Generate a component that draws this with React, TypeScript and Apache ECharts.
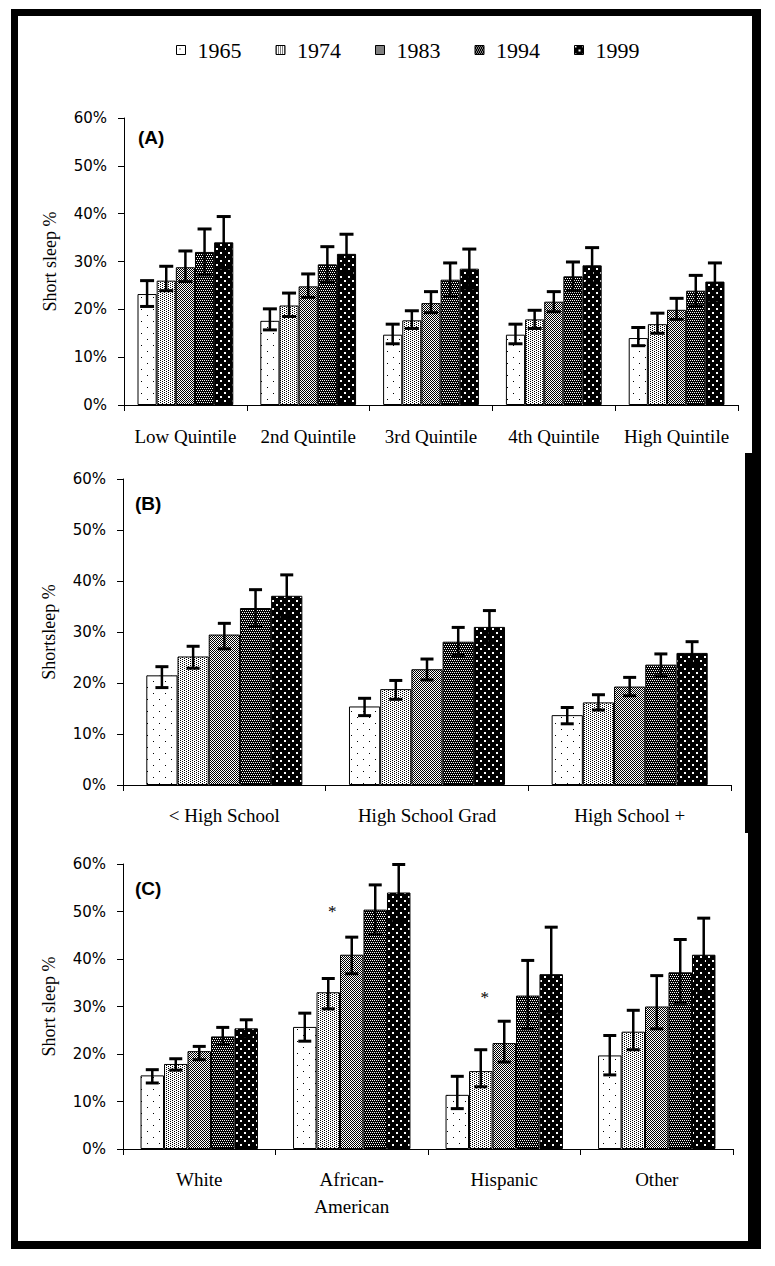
import React, { useEffect, useRef } from 'react';
import * as echarts from 'echarts';

const YEARS = ['1965', '1974', '1983', '1994', '1999'];

// Panel A: income quintiles
const catsA = ['Low Quintile', '2nd Quintile', '3rd Quintile', '4th Quintile', 'High Quintile'];
const valsA = [
  [23.2, 17.6, 14.7, 14.7, 14.0],
  [26.0, 20.8, 17.7, 17.9, 16.9],
  [28.8, 24.8, 21.3, 21.6, 19.9],
  [32.0, 29.4, 26.2, 26.9, 23.9],
  [34.0, 31.6, 28.5, 29.2, 25.8],
];
const hiA = [
  [26.0, 20.1, 16.9, 16.9, 16.2],
  [29.0, 23.4, 19.7, 19.8, 19.2],
  [32.2, 27.4, 23.7, 23.7, 22.3],
  [36.8, 33.1, 29.7, 29.9, 27.1],
  [39.4, 35.7, 32.6, 32.9, 29.7],
];
const loA = [
  [20.6, 15.7, 12.8, 12.8, 12.4],
  [23.9, 18.5, 16.0, 16.0, 15.0],
  [25.8, 22.5, 19.3, 19.5, 17.9],
  [27.2, 25.7, 22.7, 23.9, 20.7],
  [28.6, 27.5, 24.4, 25.5, 21.9],
];

// Panel B: education
const catsB = ['< High School', 'High School Grad', 'High School +'];
const valsB = [
  [21.5, 15.4, 13.7],
  [25.2, 18.8, 16.2],
  [29.5, 22.7, 19.3],
  [34.7, 28.1, 23.6],
  [37.1, 31.0, 25.9],
];
const hiB = [
  [23.2, 17.0, 15.2],
  [27.2, 20.5, 17.7],
  [31.7, 24.7, 21.1],
  [38.3, 30.9, 25.7],
  [41.2, 34.2, 28.1],
];
const loB = [
  [19.1, 13.6, 12.0],
  [22.9, 16.8, 14.7],
  [26.7, 20.6, 17.5],
  [31.1, 25.4, 21.4],
  [33.0, 27.8, 23.6],
];

// Panel C: race / ethnicity
const catsC = ['White', 'African-\nAmerican', 'Hispanic', 'Other'];
const valsC = [
  [15.5, 25.7, 11.4, 19.7],
  [17.9, 33.0, 16.4, 24.7],
  [20.6, 40.9, 22.3, 30.0],
  [23.7, 50.4, 32.3, 37.2],
  [25.4, 54.0, 36.8, 40.9],
];
const hiC = [
  [16.7, 28.6, 15.3, 23.9],
  [19.0, 35.9, 20.9, 29.2],
  [21.6, 44.6, 26.9, 36.5],
  [25.6, 55.6, 39.7, 44.1],
  [27.2, 59.9, 46.7, 48.6],
];
const loC = [
  [13.9, 22.7, 8.5, 15.6],
  [16.6, 29.5, 13.1, 20.9],
  [18.8, 36.9, 18.3, 25.3],
  [22.0, 45.2, 25.3, 30.7],
  [23.7, 48.1, 28.8, 32.8],
];
// asterisks: [category index, year index, y position (%)]
const asteriskC = [
  [1, 1, 50.0],
  [2, 1, 31.8],
];

const Y_MIN = 0;
const Y_MAX = 60;
const Y_STEP = 10;

function makePattern(kind: number): any {
  const c = document.createElement('canvas');
  let w = 4, h = 4;
  const px: Array<[number, number, number, number]> = [];
  let bg = '#fff';
  let fg = '#000';
  if (kind === 0) {
    w = 12; h = 12;
    px.push([3, 3, 1, 1], [9, 9, 1, 1]);
  } else if (kind === 1) {
    w = 4; h = 2;
    px.push([0, 0, 1, 1], [2, 1, 1, 1]);
  } else if (kind === 2) {
    w = 2; h = 2;
    px.push([0, 0, 1, 1], [1, 1, 1, 1]);
  } else if (kind === 3) {
    w = 4; h = 4; bg = '#000'; fg = '#fff';
    px.push([0, 0, 1, 1], [2, 0, 1, 1], [1, 2, 1, 1], [3, 2, 1, 1]);
  } else {
    w = 8; h = 8; bg = '#000'; fg = '#fff';
    px.push([0, 0, 2, 2], [4, 4, 2, 2]);
  }
  c.width = w; c.height = h;
  const ctx = c.getContext('2d')!;
  ctx.fillStyle = bg;
  ctx.fillRect(0, 0, w, h);
  ctx.fillStyle = fg;
  px.forEach(([x, y, pw, ph]) => ctx.fillRect(x, y, pw, ph));
  return { image: c, repeat: 'repeat', imageWidth: w, imageHeight: h };
}

export default function App() {
  const ref = useRef<HTMLDivElement>(null);

  useEffect(() => {
    document.body.style.margin = '0';
    const chart = echarts.init(ref.current!, null, { renderer: 'svg' });
    const patterns = [0, 1, 2, 3, 4].map(makePattern);

    const panels = [
      { cats: catsA, vals: valsA, hi: hiA, lo: loA, grid: { left: 124, top: 118, width: 614, height: 287 }, gap: 0.22, title: 'Short sleep %', labelMargin: 21, lineHeight: 20, cap: 14 },
      { cats: catsB, vals: valsB, hi: hiB, lo: loB, grid: { left: 123, top: 479, width: 608, height: 306 }, gap: 0.23, title: 'Shortsleep %', labelMargin: 20, lineHeight: 20, cap: 13 },
      { cats: catsC, vals: valsC, hi: hiC, lo: loC, grid: { left: 123, top: 864, width: 610, height: 285 }, gap: 0.23, title: 'Short sleep %', labelMargin: 17, lineHeight: 27, cap: 13 },
    ];

    const grids: any[] = [];
    const xAxes: any[] = [];
    const yAxes: any[] = [];
    const series: any[] = [];

    panels.forEach((p, pi) => {
      grids.push({ ...p.grid, containLabel: false });
      xAxes.push({
        type: 'category',
        gridIndex: pi,
        data: p.cats,
        axisLine: { show: true, lineStyle: { color: '#000', width: 1 } },
        axisTick: { show: true, length: 6, interval: 0, alignWithLabel: false, lineStyle: { color: '#000' } },
        axisLabel: {
          interval: 0,
          fontFamily: 'Liberation Serif',
          fontSize: 19,
          color: '#000',
          margin: p.labelMargin,
          lineHeight: p.lineHeight,
        },
        splitLine: { show: false },
      });
      yAxes.push({
        type: 'value',
        gridIndex: pi,
        min: Y_MIN,
        max: Y_MAX,
        interval: Y_STEP,
        axisLine: { show: true, lineStyle: { color: '#000', width: 1 } },
        axisTick: { show: true, length: 6, lineStyle: { color: '#000' } },
        splitLine: { show: false },
        axisLabel: { formatter: '{value}%', fontFamily: 'DejaVu Sans', fontSize: 15, color: '#000', margin: 17 },
        name: p.title,
        nameLocation: 'middle',
        nameGap: 65,
        nameTextStyle: { fontFamily: 'Liberation Serif', fontSize: 18, color: '#000' },
      });

      YEARS.forEach((yr, s) => {
        series.push({
          type: 'bar',
          name: yr,
          xAxisIndex: pi,
          yAxisIndex: pi,
          data: p.vals[s],
          barGap: '0%',
          barCategoryGap: Math.round(p.gap * 100) + '%',
          itemStyle: { color: patterns[s], borderColor: '#000', borderWidth: 1 },
          emphasis: { disabled: true },
          silent: true,
          z: 2,
        });
      });

      const errData: number[][] = [];
      YEARS.forEach((_, s) => {
        p.cats.forEach((__, c) => {
          errData.push([c, s, p.lo[s][c], p.hi[s][c]]);
        });
      });
      const gap = p.gap;
      const cap = p.cap;
      series.push({
        type: 'custom',
        name: 'err' + pi,
        xAxisIndex: pi,
        yAxisIndex: pi,
        data: errData,
        encode: { x: 0, y: [2, 3] },
        itemStyle: { color: '#000' },
        silent: true,
        z: 5,
        renderItem: (params: any, api: any) => {
          const c = api.value(0);
          const s = api.value(1);
          const band = api.size([1, 0])[0];
          const bw = (band * (1 - gap)) / 5;
          const cx = api.coord([c, 0])[0] + (s - 2) * bw;
          const yLo = api.coord([c, api.value(2)])[1];
          const yHi = api.coord([c, api.value(3)])[1];
          const hw = cap / 2;
          return {
            type: 'group',
            children: [
              { type: 'line', shape: { x1: cx, y1: yLo, x2: cx, y2: yHi }, style: { stroke: '#000', lineWidth: 2.5 } },
              { type: 'line', shape: { x1: cx - hw, y1: yHi, x2: cx + hw, y2: yHi }, style: { stroke: '#000', lineWidth: 3 } },
              { type: 'line', shape: { x1: cx - hw, y1: yLo, x2: cx + hw, y2: yLo }, style: { stroke: '#000', lineWidth: 3 } },
            ],
          };
        },
      });

      if (pi === 2) {
        series.push({
          type: 'custom',
          name: 'asterisk',
          xAxisIndex: pi,
          yAxisIndex: pi,
          data: asteriskC,
          encode: { x: 0, y: 2 },
          itemStyle: { color: '#000' },
          silent: true,
          z: 6,
          renderItem: (params: any, api: any) => {
            const c = api.value(0);
            const s = api.value(1);
            const band = api.size([1, 0])[0];
            const bw = (band * (1 - gap)) / 5;
            const pt = api.coord([c, api.value(2)]);
            return {
              type: 'text',
              x: pt[0] + (s - 2) * bw + 4,
              y: pt[1],
              style: {
                text: '*',
                fontFamily: 'Liberation Serif',
                fontSize: 17,
                fill: '#000',
                textFill: '#000',
                align: 'center',
                verticalAlign: 'middle',
              },
            };
          },
        });
      }
    });

    const panelLabel = (text: string, x: number, y: number) => ({
      type: 'text',
      x,
      y,
      style: {
        text,
        fontFamily: 'Liberation Sans',
        fontWeight: 'bold',
        fontSize: 19,
        fill: '#000',
        verticalAlign: 'middle',
      },
      silent: true,
    });
    const blk = (x: number, y: number, w: number, h: number) => ({
      type: 'rect',
      shape: { x, y, width: w, height: h },
      style: { fill: '#000' },
      silent: true,
    });

    chart.setOption({
      animation: false,
      backgroundColor: '#fff',
      textStyle: { fontFamily: 'Liberation Serif', color: '#000' },
      legend: {
        data: YEARS,
        left: 176,
        top: 39,
        padding: 0,
        itemWidth: 9,
        itemHeight: 9,
        itemGap: 34,
        icon: 'rect',
        selectedMode: false,
        itemStyle: { borderColor: '#000', borderWidth: 1 },
        textStyle: { fontFamily: 'Liberation Serif', fontSize: 22, color: '#000', padding: [0, 0, 0, 7] },
      },
      grid: grids,
      xAxis: xAxes,
      yAxis: yAxes,
      series,
      graphic: [
        panelLabel('(A)', 138, 137),
        panelLabel('(B)', 135, 503),
        panelLabel('(C)', 135, 888),
        blk(11, 9, 7, 1240),
        blk(11, 9, 750, 7),
        blk(11, 1241, 750, 8),
        blk(752, 9, 9, 445),
        blk(745, 453, 16, 380),
        blk(748, 832, 13, 417),
      ],
    });

    return () => chart.dispose();
  }, []);

  return <div ref={ref} style={{ width: 775, height: 1266 }} />;
}
